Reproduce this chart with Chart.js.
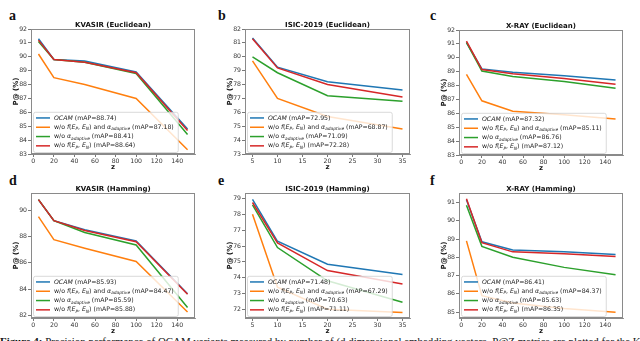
<!DOCTYPE html>
<html>
<head>
<meta charset="utf-8">
<script src="https://cdn.jsdelivr.net/npm/chart.js@4.4.1/dist/chart.umd.min.js"></script>
<style>
  html, body { margin: 0; padding: 0; background: #fff; }
  body { width: 640px; height: 341px; overflow: hidden; position: relative; }
  canvas { position: absolute; }
  .tag { position: absolute; font: bold 14px "Liberation Serif", serif; color: #111; line-height: 14px; }
  .caption { position: absolute; left: 0; top: 334px; font: 10.9px "Liberation Serif", serif; color: #111; white-space: nowrap; line-height: 14px; }
</style>
</head>
<body>
<div class="tag" style="left:9px;top:9px">a</div>
<div class="tag" style="left:218px;top:9px">b</div>
<div class="tag" style="left:430px;top:9px">c</div>
<div class="tag" style="left:9px;top:174px">d</div>
<div class="tag" style="left:218px;top:174px">e</div>
<div class="tag" style="left:430px;top:174px">f</div>
<div class="caption"><b>Figure 4:</b> Precision performance of OCAM variants measured by number of (d dimensional embedding vectors. P@Z metrics are plotted for the KVASIR</div>

<script>
// x values (z) for each dataset
const zKvasir = [5, 20, 50, 100, 150];
const zIsic = [5, 10, 20, 35];
const zXray = [5, 20, 50, 100, 150];

// legend names (mathtext style markup)
const variantNames = [
  "$OCAM$",
  "w/o $f(E_P, E_N)$ and $\\alpha_{adaptive}$",
  "w/o $\\alpha_{adaptive}$",
  "w/o $f(E_P, E_N)$"
];

// P@ (%) values, order: OCAM, w/o f & alpha, w/o alpha, w/o f
const kvasirEuc = [
  [91.3, 89.8, 89.7, 88.9, 84.8],
  [90.2, 88.5, 88.0, 87.0, 83.3],
  [91.1, 89.8, 89.6, 88.8, 84.4],
  [91.2, 89.8, 89.6, 88.85, 84.7]
];
const kvasirEucMap = [88.74, 87.18, 88.41, 88.64];

const isicEuc = [
  [81.35, 79.25, 78.2, 77.6],
  [79.7, 77.0, 75.7, 74.8],
  [80.0, 78.85, 77.2, 76.8],
  [81.3, 79.2, 78.0, 77.1]
];
const isicEucMap = [72.95, 68.87, 71.09, 72.28];

const xrayEuc = [
  [91.1, 89.2, 88.95, 88.7, 88.4],
  [88.8, 86.9, 86.15, 85.9, 85.6],
  [91.1, 89.05, 88.65, 88.3, 87.8],
  [91.2, 89.15, 88.85, 88.5, 88.1]
];
const xrayEucMap = [87.32, 85.11, 86.76, 87.12];

const kvasirHam = [
  [90.8, 89.2, 88.5, 87.65, 83.65],
  [89.5, 87.75, 87.1, 86.1, 82.25],
  [90.8, 89.2, 88.3, 87.35, 82.6],
  [90.8, 89.2, 88.45, 87.6, 83.6]
];
const kvasirHamMap = [85.93, 84.47, 85.59, 85.88];

const isicHam = [
  [78.95, 76.3, 74.85, 74.2],
  [78.0, 73.4, 72.0, 71.8],
  [78.6, 75.9, 73.8, 72.45],
  [78.75, 76.2, 74.45, 73.6]
];
const isicHamMap = [71.48, 67.29, 70.63, 71.11];

const xrayHam = [
  [91.15, 88.85, 88.4, 88.3, 88.15],
  [88.9, 85.9, 85.5, 85.2, 85.0],
  [90.85, 88.6, 88.0, 87.45, 87.05],
  [91.2, 88.8, 88.3, 88.2, 88.05]
];
const xrayHamMap = [86.41, 84.37, 85.63, 86.35];

// tick labels
const xTicksLong = [0, 20, 40, 60, 80, 100, 120, 140];
const xTicksShort = [5, 10, 15, 20, 25, 30, 35];
const yTicksKvasirEuc = [83, 84, 85, 86, 87, 88, 89, 90, 91, 92];
const yTicksIsicEuc = [73, 74, 75, 76, 77, 78, 79, 80, 81, 82];
const yTicksXrayEuc = [83, 84, 85, 86, 87, 88, 89, 90, 91, 92];
const yTicksKvasirHam = [82, 84, 86, 88, 90];
const yTicksIsicHam = [72, 73, 74, 75, 76, 77, 78, 79];
const yTicksXrayHam = [85, 86, 87, 88, 89, 90, 91];

const colors = ["#1f77b4", "#ff7f0e", "#2ca02c", "#d62728"];
const FONT = "'DejaVu Sans', sans-serif";

// panel boxes (page px of the plot area) and axis ranges
const panels = [
  { title: "KVASIR (Euclidean)", box: [31, 29, 195, 154], z: zKvasir, vals: kvasirEuc, maps: kvasirEucMap,
    xr: [-2.25, 157.25], yr: [83, 92], xt: xTicksLong, yt: yTicksKvasirEuc },
  { title: "ISIC-2019 (Euclidean)", box: [245, 29, 410, 154], z: zIsic, vals: isicEuc, maps: isicEucMap,
    xr: [3.5, 36.5], yr: [73, 82], xt: xTicksShort, yt: yTicksIsicEuc },
  { title: "X-RAY (Euclidean)", box: [459, 30, 623, 155], z: zXray, vals: xrayEuc, maps: xrayEucMap,
    xr: [-2.25, 157.25], yr: [83, 92], xt: xTicksLong, yt: yTicksXrayEuc },
  { title: "KVASIR (Hamming)", box: [31, 193, 195, 318], z: zKvasir, vals: kvasirHam, maps: kvasirHamMap,
    xr: [-2.25, 157.25], yr: [81.8, 91.3], xt: xTicksLong, yt: yTicksKvasirHam },
  { title: "ISIC-2019 (Hamming)", box: [245, 193, 410, 318], z: zIsic, vals: isicHam, maps: isicHamMap,
    xr: [3.5, 36.5], yr: [71.45, 79.35], xt: xTicksShort, yt: yTicksIsicHam },
  { title: "X-RAY (Hamming)", box: [459, 193, 623, 318], z: zXray, vals: xrayHam, maps: xrayHamMap,
    xr: [-2.25, 157.25], yr: [84.68, 91.52], xt: xTicksLong, yt: yTicksXrayHam }
];

// tiny mathtext-ish parser: $...$ letters italic, _x / _{..} subscript
function parseLabel(s) {
  const out = [];
  s.split("$").forEach((p, i) => {
    if (i % 2 === 0) {
      if (p) out.push({ t: p, it: false, sub: false });
      return;
    }
    let j = 0;
    while (j < p.length) {
      let sub = false;
      if (p[j] === "_") { sub = true; j++; }
      let tok;
      if (p[j] === "{") {
        const k = p.indexOf("}", j);
        tok = p.slice(j + 1, k);
        j = k + 1;
      } else if (p[j] === "\\") {
        tok = p.slice(j).match(/^\\[a-z]+/)[0];
        j += tok.length;
      } else {
        tok = p[j];
        j++;
      }
      tok = tok.replace("\\alpha", "\u03b1");
      out.push({ t: tok, it: /[A-Za-z\u03b1]/.test(tok), sub: sub });
    }
  });
  return out;
}

function segFont(seg, fs) {
  return (seg.it ? "italic " : "") + (seg.sub ? fs * 0.7 : fs) + "px " + FONT;
}

function drawRich(ctx, segs, x, y, fs) {
  ctx.textBaseline = "middle";
  ctx.textAlign = "left";
  segs.forEach((seg) => {
    ctx.font = segFont(seg, fs);
    ctx.fillText(seg.t, x, seg.sub ? y + fs * 0.3 : y);
    x += ctx.measureText(seg.t).width;
  });
  return x;
}

function richWidth(ctx, segs, fs) {
  let w = 0;
  segs.forEach((seg) => {
    ctx.font = segFont(seg, fs);
    w += ctx.measureText(seg.t).width;
  });
  return w;
}

function makeDecor(p) {
  return {
    id: "decor",
    afterDraw(chart) {
      const ctx = chart.ctx;
      const a = chart.chartArea;
      ctx.save();
      // frame
      ctx.strokeStyle = "#8a8a8a";
      ctx.lineWidth = 1;
      ctx.strokeRect(a.left + 0.5, a.top + 0.5, a.right - a.left - 1, a.bottom - a.top - 1);

      // title
      ctx.fillStyle = "#111";
      ctx.font = "bold 7px " + FONT;
      ctx.textAlign = "center";
      ctx.textBaseline = "alphabetic";
      ctx.fillText(p.title, (a.left + a.right) / 2, a.top - 2);

      // x label
      ctx.textBaseline = "middle";
      ctx.fillText("z", (a.left + a.right) / 2, a.bottom + 13);

      // y label
      ctx.save();
      ctx.translate(a.left - 15, (a.top + a.bottom) / 2);
      ctx.rotate(-Math.PI / 2);
      ctx.fillText("P@ (%)", 0, 0);
      ctx.restore();

      // legend inside, lower left
      const fs = 6.2;
      const rh = 9.3;
      const labels = chart.data.datasets.map((d) => parseLabel(d.label));
      const tw = Math.max(...labels.map((l) => richWidth(ctx, l, fs)));
      const x0 = a.left + 2;
      const y1 = a.bottom - 2;
      const h = rh * 4 + 3;
      const y0 = y1 - h;
      const w = 21 + tw + 4;
      ctx.fillStyle = "rgba(255,255,255,0.8)";
      ctx.strokeStyle = "#d0d0d0";
      ctx.lineWidth = 0.8;
      ctx.beginPath();
      ctx.roundRect(x0 + 0.5, y0 + 0.5, w, h, 2);
      ctx.fill();
      ctx.stroke();
      labels.forEach((segs, i) => {
        const cy = y0 + 1.5 + rh * (i + 0.5);
        ctx.strokeStyle = chart.data.datasets[i].borderColor;
        ctx.lineWidth = 1.5;
        ctx.beginPath();
        ctx.moveTo(x0 + 3, cy);
        ctx.lineTo(x0 + 17, cy);
        ctx.stroke();
        ctx.fillStyle = "#222";
        drawRich(ctx, segs, x0 + 21, cy, fs);
      });
      ctx.restore();
    }
  };
}

const PADL = 34, PADT = 22, PADR = 4, PADB = 18;

panels.forEach((p) => {
  const [l, t, r, b] = p.box;
  const cv = document.createElement("canvas");
  const cw = r - l + PADL + PADR;
  const ch = b - t + PADT + PADB;
  cv.width = cw;
  cv.height = ch;
  cv.style.left = (l - PADL) + "px";
  cv.style.top = (t - PADT) + "px";
  cv.style.width = cw + "px";
  cv.style.height = ch + "px";
  document.body.appendChild(cv);

  const datasets = p.vals.map((v, i) => ({
    label: variantNames[i] + " (mAP=" + p.maps[i].toFixed(2) + ")",
    data: v.map((y, k) => ({ x: p.z[k], y: y })),
    borderColor: colors[i],
    backgroundColor: colors[i],
    borderWidth: 1.5,
    pointRadius: 0,
    tension: 0,
    fill: false,
    order: 3 - i
  }));

  const tickFont = { family: FONT, size: 6.2 };

  new Chart(cv, {
    type: "line",
    data: { datasets: datasets },
    options: {
      responsive: false,
      animation: false,
      devicePixelRatio: 1,
      layout: { padding: { left: 4, top: PADT, right: PADR, bottom: 0 } },
      plugins: { legend: { display: false }, tooltip: { enabled: false }, title: { display: false } },
      scales: {
        x: {
          type: "linear",
          min: p.xr[0],
          max: p.xr[1],
          afterBuildTicks: (s) => { s.ticks = p.xt.map((v) => ({ value: v })); },
          afterFit: (s) => { s.height = PADB; },
          ticks: { font: tickFont, color: "#333", padding: 1, maxRotation: 0, autoSkip: false, callback: (v) => String(v) },
          grid: { drawOnChartArea: false, drawTicks: true, tickLength: 3, color: "#555", lineWidth: 0.8 },
          border: { display: true, color: "#8a8a8a" }
        },
        y: {
          type: "linear",
          min: p.yr[0],
          max: p.yr[1],
          afterBuildTicks: (s) => { s.ticks = p.yt.map((v) => ({ value: v })); },
          afterFit: (s) => { s.width = PADL - 4; },
          ticks: { font: tickFont, color: "#333", padding: 1, autoSkip: false, callback: (v) => String(v) },
          grid: { drawOnChartArea: false, drawTicks: true, tickLength: 3, color: "#555", lineWidth: 0.8 },
          border: { display: true, color: "#8a8a8a" }
        }
      }
    },
    plugins: [makeDecor(p)]
  });
});
</script>
</body>
</html>
